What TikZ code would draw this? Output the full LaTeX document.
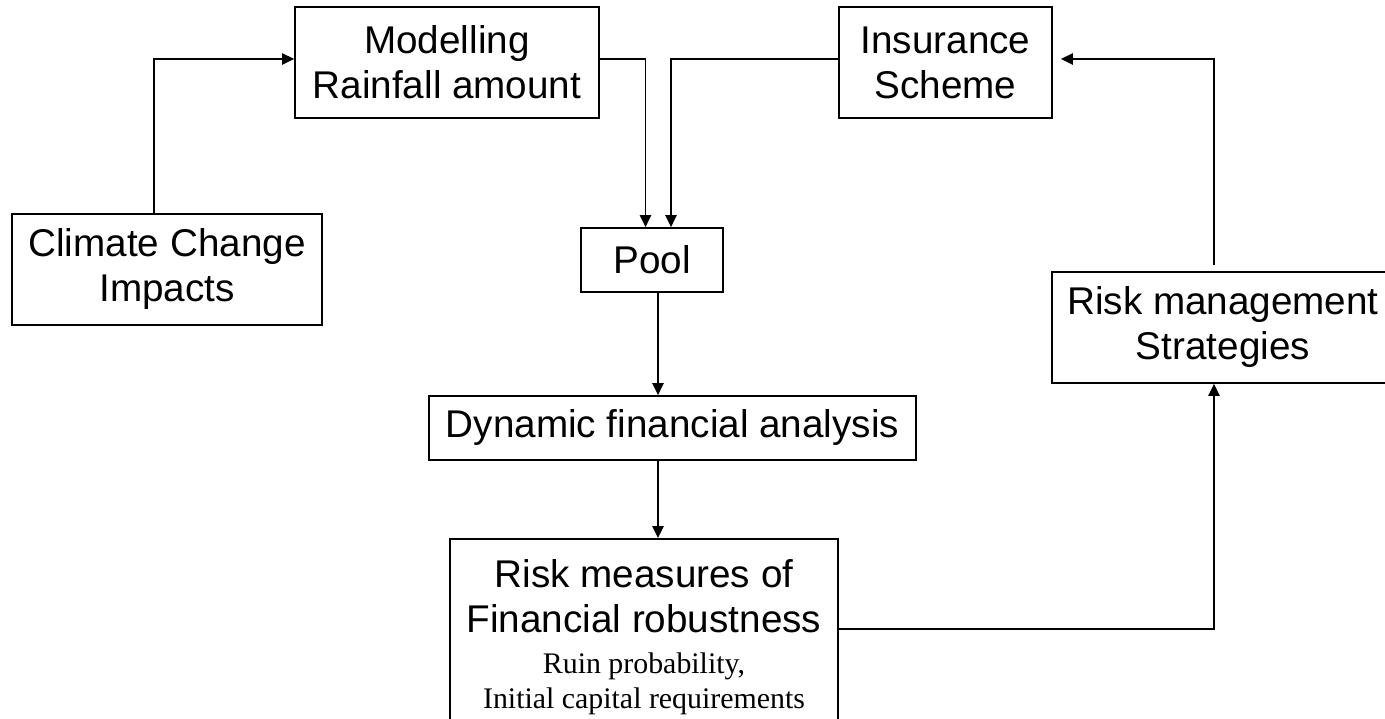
\documentclass[tikz,border=0pt]{standalone}
\usepackage{fontspec}
\setmainfont{Liberation Sans}
\newfontfamily\notefont{Liberation Serif}
\usetikzlibrary{arrows.meta}
\tikzset{
	box/.style={draw, line width=0.5pt, align=center, inner sep=0pt, font=\fontsize{11}{12.8}\selectfont},
	arr/.style={line width=0.5pt, -{Triangle[length=3.4pt,width=3.2pt]}}
}
\def\note#1{{\notefont\fontsize{8.5}{10}\selectfont #1}}

\begin{document}
\begin{tikzpicture}
		%%%%% START %%%%%
		\useasboundingbox (0,0) rectangle (13.85,7.19);
		
		\node[box, minimum width=3.10cm, minimum height=1.11cm] (clim) at (1.67, 4.495) {Climate Change\\Impacts};
		\node[box, minimum width=3.04cm, minimum height=1.11cm] (model) at (4.47, 6.565) {Modelling\\Rainfall amount};
		\node[box, minimum width=2.13cm, minimum height=1.11cm] (ins) at (9.455, 6.565) {Insurance\\Scheme};
		\node[box, minimum width=1.42cm, minimum height=0.64cm] (pool) at (6.52, 4.59) {Pool};
		\node[box, minimum width=3.42cm, minimum height=1.11cm] (rms) at (12.23, 3.915) {Risk management\\Strategies};
		\node[box, minimum width=4.87cm, minimum height=0.64cm] (dfa) at (6.725, 2.91) {Dynamic financial analysis};
		\node[box, anchor=north, minimum width=3.88cm, inner ysep=0.21cm] (risk) at (6.44, 1.81) {Risk measures of\\Financial robustness\\[-1.14pt]\note{Ruin probability,}\\[-2.84pt]\note{Initial capital requirements}};
		
		\draw[arr] ([xshift=-0.13cm]clim.north) |- ([yshift=0.035cm]model.west);
		\draw[arr] ([yshift=0.035cm]model.east) -| ([xshift=-0.065cm]pool.north);
		\draw[arr] ([yshift=0.035cm]ins.west) -| ([xshift=0.19cm]pool.north);
		
		\draw[arr] ([xshift=0.06cm]pool.south) -- ([xshift=0.06cm]pool.south |- dfa.north);
		\draw[arr] ([xshift=-0.145cm]dfa.south) -- ([xshift=-0.145cm]dfa.south |- risk.north);
		
		\draw[arr] ([yshift=-0.91cm]risk.north east) -| ([xshift=-0.09cm]rms.south);
		\draw[arr, shorten <=0.06cm, shorten >=0.08cm] ([xshift=-0.09cm]rms.north) |- ([yshift=0.035cm]ins.east);
		
		%%%%% END %%%%%
\end{tikzpicture}
\end{document}
